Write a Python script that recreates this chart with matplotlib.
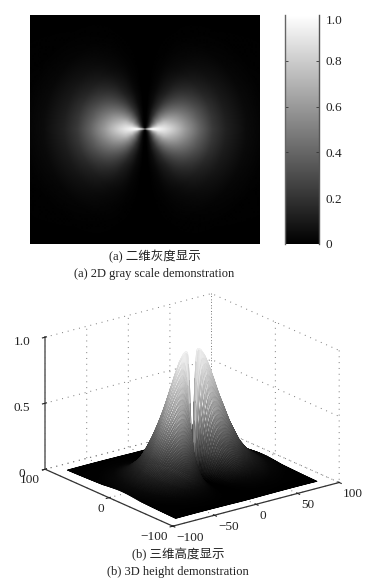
import numpy as np
import matplotlib
matplotlib.use("Agg")
import matplotlib.pyplot as plt
from mpl_toolkits.mplot3d import Axes3D  # noqa: F401

plt.rcParams['font.family'] = ['Liberation Serif', 'Noto Sans CJK SC']
plt.rcParams['axes.unicode_minus'] = True

# Brightness table (one quadrant; the field is mirror-symmetric)
radius = [0, 3, 6, 10, 15, 20, 25, 30, 35, 40, 50, 60, 75, 90, 130]
angle_deg = [0, 5, 10, 20, 30, 45, 60, 75, 85, 90]
brightness = [
    [1.00, 1.00, .99, .96, .90, .81, .71, .60, .50, .40, .23, .13, .045, .012, 0],
    [.75, .85, .95, .93, .87, .79, .69, .58, .49, .39, .22, .125, .044, .012, 0],
    [.45, .60, .80, .87, .84, .75, .66, .56, .465, .37, .215, .12, .042, .011, 0],
    [.25, .38, .60, .74, .74, .66, .58, .49, .41, .33, .19, .105, .037, .01, 0],
    [.15, .25, .45, .58, .60, .55, .48, .41, .34, .27, .155, .09, .03, .008, 0],
    [.06, .12, .26, .38, .40, .37, .32, .27, .225, .18, .105, .06, .02, .005, 0],
    [.02, .05, .11, .18, .20, .18, .16, .13, .11, .09, .05, .03, .01, .003, 0],
    [0, .01, .02, .04, .055, .05, .045, .036, .03, .024, .014, .008, .003, .001, 0],
    [0, 0, 0, .003, .004, .004, .004, .003, .002, .002, .001, .001, 0, 0, 0],
    [0, 0, 0, 0, 0, 0, 0, 0, 0, 0, 0, 0, 0, 0, 0],
]
colorbar_ticks = [0, 0.2, 0.4, 0.6, 0.8, 1.0]
colorbar_labels = ['0', '0.2', '0.4', '0.6', '0.8', '1.0']
x_ticks = [-100, -50, 0, 50, 100]
y_ticks = [-100, 0, 100]
z_ticks = [0, 0.5, 1.0]
z_labels = ['0', '0.5', '1.0']
captions = ['(a) 二维灰度显示', '(a) 2D gray scale demonstration',
            '(b) 三维高度显示', '(b) 3D height demonstration']
half_width = 85


def field(x, y):
    """Look up the read table at Cartesian positions."""
    r_t = np.asarray(radius, float)
    a_t = np.asarray(angle_deg, float)
    b_t = np.asarray(brightness, float)
    r = np.hypot(x, y)
    a = np.degrees(np.arctan2(np.abs(y), np.abs(x)))
    i = np.clip(np.searchsorted(a_t, a, side='right') - 1, 0, len(a_t) - 2)
    j = np.clip(np.searchsorted(r_t, r, side='right') - 1, 0, len(r_t) - 2)
    u = (a - a_t[i]) / (a_t[i + 1] - a_t[i])
    v = np.clip((r - r_t[j]) / (r_t[j + 1] - r_t[j]), 0, 1)
    return ((1 - u) * (1 - v) * b_t[i, j] + u * (1 - v) * b_t[i + 1, j]
            + (1 - u) * v * b_t[i, j + 1] + u * v * b_t[i + 1, j + 1])


W, H = 385, 583
fig = plt.figure(figsize=(W / 100, H / 100), dpi=100, facecolor='white')


def box(l, t, r, b):
    return [l / W, 1 - b / H, (r - l) / W, (b - t) / H]


# 2D view
ax = fig.add_axes(box(30, 15, 260, 244))
g = np.linspace(-half_width, half_width, 461)
GX, GY = np.meshgrid(g, g)
im = ax.imshow(field(GX, GY), extent=[-half_width, half_width, -half_width, half_width],
               cmap='gray', vmin=0, vmax=1, origin='lower', aspect='auto', interpolation='bilinear')
ax.set_xticks([])
ax.set_yticks([])
for s in ax.spines.values():
    s.set_visible(False)

# Colour bar
cax = fig.add_axes(box(284.5, 15, 318.5, 244))
cb = fig.colorbar(im, cax=cax)
cb.set_ticks(colorbar_ticks)
cb.set_ticklabels(colorbar_labels)
cax.tick_params(direction='in', length=2.0, width=0.6, color='#333333', labelsize=9.5, pad=5,
                labelcolor='#222222', left=True)
cb.outline.set_visible(False)
cax.axvline(0, color='#666666', lw=1.0, clip_on=False)
cax.axvline(1, color='#555555', lw=1.0, clip_on=False)
cax.get_yticklabels()[-1].set_verticalalignment('top')
for t in (cax.yaxis.get_major_ticks()[0], cax.yaxis.get_major_ticks()[-1]):
    t.tick1line.set_visible(False)
    t.tick2line.set_visible(False)

# 3D view
ax3 = fig.add_axes(box(-4, 278.5, 381, 548.5), projection='3d', proj_type='ortho')
ax3.view_init(elev=20, azim=-127.5)
g3 = np.linspace(-half_width, half_width, 162)
SX, SY = np.meshgrid(g3, g3)
SZ = field(SX, SY)
surf = ax3.plot_surface(SX, SY, SZ, rstride=1, cstride=1, color='white', shade=False,
                        antialiased=True, linewidth=0.45)
cells = ((SZ[:-1, :-1] + SZ[1:, 1:]) / 2).ravel()
surf.set_edgecolor(plt.get_cmap('gray')(cells))
surf.set_facecolor(plt.get_cmap('gray')(np.clip(cells * 2, 0, 1)))
ax3.set_xlim(-100, 100)
ax3.set_ylim(-100, 100)
ax3.set_zlim(0, 1)
ax3.set_box_aspect((1, 1, 0.67), zoom=1.18)
ax3.set_xticks(x_ticks)
ax3.set_yticks(y_ticks)
ax3.set_zticks(z_ticks)
ax3.set_zticklabels(z_labels)
ax3.patch.set_alpha(0)
for a, p in ((ax3.xaxis, -5), (ax3.yaxis, -5), (ax3.zaxis, 0)):
    a.pane.set_visible(False)
    a.line.set_color('#333333')
    a.line.set_linewidth(0.9)
    a._axinfo['grid'].update(color='#777777', linewidth=0.7, linestyle=(0, (1, 5)))
    a.set_tick_params(labelsize=9.5, pad=p, colors='#222222')
ax3.zaxis.line.set_color('#777777')
ax3.zaxis.line.set_linewidth(1.3)
for lab in ax3.get_xticklabels():
    lab.set_horizontalalignment('left')
for lab in ax3.get_yticklabels():
    lab.set_horizontalalignment('right')

# Captions
fig.text(155 / W, 1 - 257 / H, captions[0], ha='center', va='center', fontsize=9, color='#222222')
fig.text(154 / W, 1 - 274 / H, captions[1], ha='center', va='center', fontsize=9, color='#222222')
fig.text(178 / W, 1 - 555 / H, captions[2], ha='center', va='center', fontsize=9, color='#222222')
fig.text(178 / W, 1 - 572 / H, captions[3], ha='center', va='center', fontsize=9, color='#222222')

fig.savefig('out.png', dpi=100)
